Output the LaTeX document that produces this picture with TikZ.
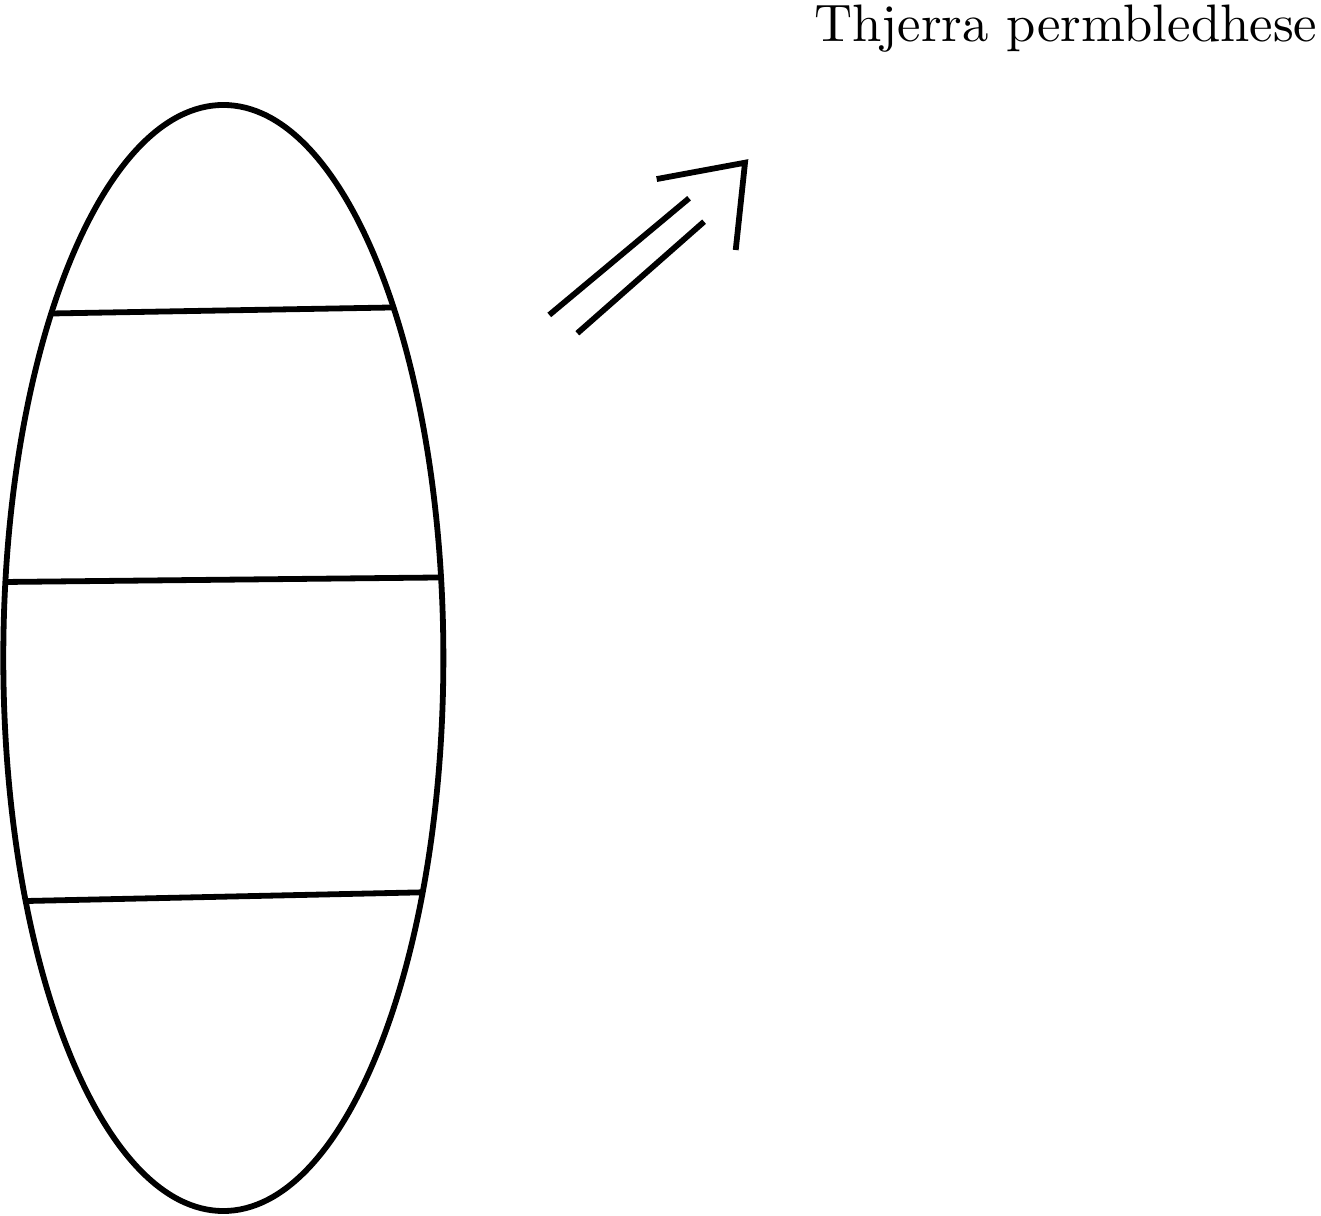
\documentclass[tikz,border=0pt]{standalone}
\usepackage{tikz}
\usetikzlibrary{shapes.geometric}

\begin{document}
\begin{tikzpicture}[
  line/.style={line width=1.1pt, line cap=butt},
  body/.style={draw, line width=1.1pt, ellipse, minimum width=2.934cm, minimum height=7.374cm, inner sep=0pt},
  label/.style={font=\normalsize, inner sep=0pt, anchor=base east}
]
  \useasboundingbox (-1.489,-3.72) rectangle (7.318,4.387);

  \node[body] (seed) at (0,0) {};
  % cross lines
  \coordinate (cutAl) at (-1.135,2.297);
  \coordinate (cutAr) at (1.131,2.337);
  \coordinate (cutBl) at (-1.435,0.507);
  \coordinate (cutBr) at (1.458,0.537);
  \coordinate (cutCl) at (-1.309,-1.62);
  \coordinate (cutCr) at (1.338,-1.562);
  \draw[line] (cutAl) -- (cutAr);
  \draw[line] (cutBl) -- (cutBr);
  \draw[line] (cutCl) -- (cutCr);

  % double arrow
  \coordinate (tip) at (3.478,3.302);
  \coordinate (armA) at (2.889,3.193);
  \coordinate (armB) at (3.416,2.72);
  \coordinate (upA) at (2.173,2.287);
  \coordinate (upB) at (3.105,3.065);
  \coordinate (lowA) at (2.36,2.165);
  \coordinate (lowB) at (3.205,2.909);
  \draw[line] (upA) -- (upB);
  \draw[line] (lowA) -- (lowB);
  \draw[line, line join=miter] (armA) -- (tip) -- (armB);

  \node[label] (summary) at (7.30,4.107) {Thjerra permbledhese};
\end{tikzpicture}
\end{document}
